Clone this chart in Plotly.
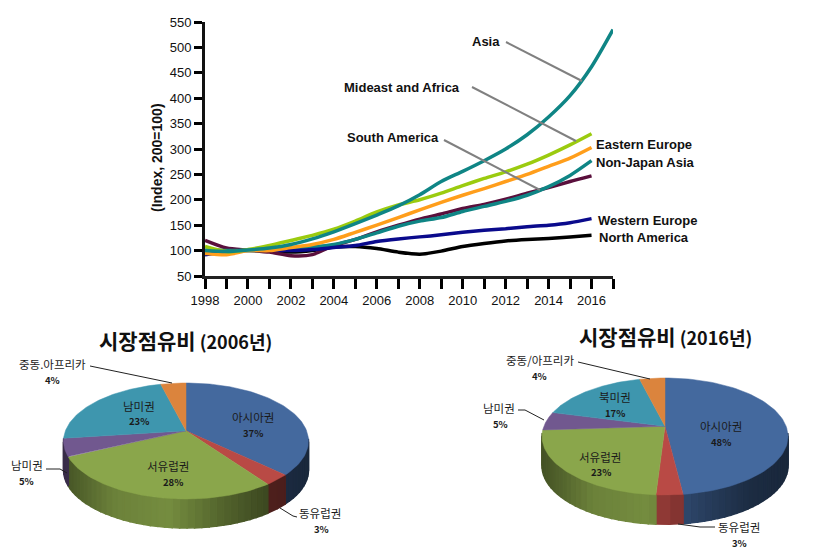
import numpy as np
import plotly.graph_objects as go

years = list(range(1998, 2018))
asia = [100, 98, 101, 105, 112, 123, 137, 153, 170, 188, 210, 236, 256, 277, 300, 328, 363, 405, 462, 535]
east_europe = [108, 98, 102, 110, 120, 130, 142, 158, 176, 190, 200, 213, 228, 242, 255, 270, 288, 308, 330]
non_japan = [95, 92, 100, 100, 106, 112, 122, 136, 150, 165, 180, 195, 209, 222, 236, 250, 266, 282, 303]
maroon_series = [120, 105, 101, 97, 90, 92, 110, 122, 137, 150, 162, 172, 183, 191, 201, 213, 224, 236, 247]
south_america = [100, 100, 100, 101, 104, 107, 112, 122, 135, 148, 158, 165, 177, 187, 197, 209, 226, 248, 277]
west_europe = [92, 97, 101, 101, 100, 102, 106, 110, 118, 123, 127, 131, 136, 140, 143, 147, 150, 155, 163]
north_america = [100, 100, 100, 100, 97, 100, 107, 108, 104, 97, 93, 99, 108, 114, 119, 122, 124, 127, 130]

y_ticks = list(range(50, 551, 50))

pie_names_2006 = ["아시아권", "동유럽권", "서유럽권", "남미권", "남미권", "중동.아프리카"]
pie_values_2006 = [37, 3, 28, 5, 23, 4]
pie_names_2016 = ["아시아권", "동유럽권", "서유럽권", "남미권", "북미권", "중동/아프리카"]
pie_values_2016 = [48, 3, 23, 5, 17, 4]
pie_colors = ["#44699E", "#B94A45", "#8AA64B", "#71588F", "#3E96AE", "#DB843D"]

W, H = 840, 560
SANS = "Liberation Sans, Arial, sans-serif"
KR = "Noto Sans CJK KR, sans-serif"


def px(x):
    return x / W


def py(y):
    return 1 - y / H


fig = go.Figure()

series = [
    (north_america, "#000000", "North America"),
    (maroon_series, "#5A0F3C", "Mideast and Africa"),
    (south_america, "#0F8585", "South America"),
    (west_europe, "#0A0A8C", "Western Europe"),
    (non_japan, "#FF9E1B", "Non-Japan Asia"),
    (east_europe, "#9BCB0F", "Eastern Europe"),
    (asia, "#0F8585", "Asia"),
]
for vals, col, name in series:
    fig.add_trace(go.Scatter(x=years[:len(vals)], y=vals, mode="lines", name=name,
                             line=dict(color=col, width=3.5, shape="spline", smoothing=0.7),
                             showlegend=False, hoverinfo="skip", cliponaxis=False))

fig.update_layout(
    width=W, height=H, margin=dict(l=0, r=0, t=0, b=0, autoexpand=False), showlegend=False,
    paper_bgcolor="white", plot_bgcolor="white",
    xaxis=dict(domain=[px(205), px(613)], range=[1998, 2017], anchor="y", automargin=False,
               tickvals=years, ticktext=[str(y) if (y % 2 == 0 and y < 2017) else "" for y in years],
               ticks="outside", ticklen=10, tickwidth=3, tickcolor="black",
               showline=True, linewidth=3, linecolor="#222222", showgrid=False, zeroline=False,
               tickfont=dict(family=SANS, size=13, color="#111111"), tickangle=0),
    yaxis=dict(domain=[py(276), py(22)], range=[50, 550], anchor="x", automargin=False,
               tickvals=y_ticks, ticks="outside", ticklen=8, tickwidth=3, tickcolor="black",
               showline=True, linewidth=3, linecolor="#111111", showgrid=False, zeroline=False,
               tickfont=dict(family=SANS, size=13, color="#111111")),
)

annotations = []
shapes = []


def label(x, y, text, size=12, bold=False, family=SANS, anchor="center", color="#111111", angle=0):
    t = f"<b>{text}</b>" if bold else text
    annotations.append(dict(x=px(x), y=py(y), xref="paper", yref="paper", text=t, showarrow=False,
                            xanchor=anchor, yanchor="middle", textangle=angle,
                            font=dict(family=family, size=size, color=color)))


def leader(points, color="#222222", width=1):
    for (a, b), (c, d) in zip(points[:-1], points[1:]):
        shapes.append(dict(type="line", xref="paper", yref="paper", x0=px(a), y0=py(b), x1=px(c), y1=py(d),
                           line=dict(color=color, width=width)))


for x, y, t, a in [(486, 42, "Asia", "center"), (402, 87, "Mideast and Africa", "center"),
                   (393, 137, "South America", "center"), (594, 145, "Eastern Europe", "left"),
                   (594, 162, "Non-Japan Asia", "left"), (596, 221, "Western Europe", "left"),
                   (597, 237, "North America", "left")]:
    label(x, y, t, 13, True, SANS, a)

label(157, 158, "(Index, 200=100)", 14, True, SANS, "center", angle=-90)

leader([(506, 42), (582, 81)], "#808080", 2)
leader([(472, 87), (576, 141)], "#808080", 2)
leader([(444, 140), (540, 190)], "#808080", 2)


def shade(hex_col, f):
    r, g, b = [int(hex_col[i:i + 2], 16) for i in (1, 3, 5)]
    return f"rgb({int(r * f)},{int(g * f)},{int(b * f)})"


APEX = 0.175
DEPTH = 0.5


def rim(theta):
    c, s = np.cos(theta), np.sin(theta)
    t = -APEX * c + np.sqrt(APEX ** 2 * c ** 2 - APEX ** 2 + 1)
    return t * s, APEX + t * c


def draw_pie(values, cx, cy, rx, ry, idx):
    xa, ya = f"x{idx}", f"y{idx}"
    top, bottom = 1.05, -1.65
    fig.update_layout({
        f"xaxis{idx}": dict(domain=[px(cx - 1.05 * rx), px(cx + 1.05 * rx)], range=[-1.05, 1.05],
                            anchor=ya, visible=False),
        f"yaxis{idx}": dict(domain=[py(cy - bottom * ry), py(cy - top * ry)], range=[bottom, top],
                            anchor=xa, visible=False),
    })
    edges = 2 * np.pi * np.concatenate([[0], np.cumsum(values)]) / sum(values)
    # side wall
    for i, col in enumerate(pie_colors):
        th = np.linspace(edges[i], edges[i + 1], max(3, int((edges[i + 1] - edges[i]) / 0.05)))
        ux, uy = rim(th)
        for j in range(len(th) - 1):
            if uy[j] > 0.02 and uy[j + 1] > 0.02:
                continue
            m = (ux[j] + ux[j + 1]) / 2
            f = np.interp(m, [-1, -0.6, -0.15, 0.3, 0.7, 1], [0.5, 0.78, 0.85, 0.6, 0.42, 0.38])
            c = shade(col, f)
            fig.add_trace(go.Scatter(
                x=[ux[j], ux[j + 1], ux[j + 1], ux[j], ux[j]],
                y=[uy[j], uy[j + 1], uy[j + 1] - DEPTH, uy[j] - DEPTH, uy[j]],
                xaxis=xa, yaxis=ya, mode="lines", fill="toself", fillcolor=c,
                line=dict(color=c, width=1.5), hoverinfo="skip", showlegend=False))
    # top face
    for i, col in enumerate(pie_colors):
        th = np.linspace(edges[i], edges[i + 1], 80)
        ux, uy = rim(th)
        fig.add_trace(go.Scatter(
            x=np.r_[0, ux, 0], y=np.r_[APEX, uy, APEX],
            xaxis=xa, yaxis=ya, mode="lines", fill="toself", fillcolor=col,
            line=dict(color=col, width=0.5), hoverinfo="skip", showlegend=False))


draw_pie(pie_values_2006, 186, 441, 122.5, 58, 2)
draw_pie(pie_values_2016, 665, 436.5, 123, 58.5, 3)


def pie_label(name, val, pos_name, pos_val):
    label(pos_name[0], pos_name[1], name, 11.5, False, KR, color="#1a1a1a")
    label(pos_val[0], pos_val[1], f"{val}%", 9.5, True, KR, color="#1a1a1a")


pos_2006 = [((253, 417), (253, 433)), ((320, 513), (321, 529)), ((168, 466), (173, 482)),
            ((27, 465), (27, 481)), ((139, 406), (139, 421)), ((52, 364), (52, 380))]
pos_2016 = [((721, 426), (721, 442)), ((739, 527), (739, 543)), ((600, 457), (601, 472)),
            ((499, 408), (500, 424)), ((615, 397), (615, 413)), ((540, 360), (539, 376))]
for n, v, p in zip(pie_names_2006, pie_values_2006, pos_2006):
    pie_label(n, v, p[0], p[1])
for n, v, p in zip(pie_names_2016, pie_values_2016, pos_2016):
    pie_label(n, v, p[0], p[1])

for cx, cy, yr in [(185, 340, 2006), (665, 336, 2016)]:
    annotations.append(dict(x=px(cx), y=py(cy), xref="paper", yref="paper", showarrow=False,
                            xanchor="center", yanchor="middle",
                            text=f"<b><span style='font-size:21px'>시장점유비</span> ({yr}년)</b>",
                            font=dict(family=KR, size=18, color="#111111")))

leader([(90, 366), (172, 383)])
leader([(46, 469), (60, 469), (67, 473)])
leader([(280, 508), (293, 516), (297, 517)])
leader([(578, 362), (650, 379)])
leader([(518, 410), (525, 410), (544, 420)])
leader([(678, 524), (700, 527), (715, 527)])

fig.update_layout(annotations=annotations, shapes=shapes)
fig.write_html("out.html", post_script="document.body.style.margin='0';",
               config=dict(displayModeBar=False))
